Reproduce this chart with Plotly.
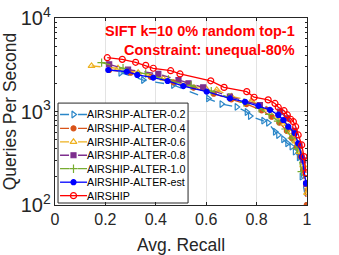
import plotly.graph_objects as go

names = ["AIRSHIP-ALTER-0.2", "AIRSHIP-ALTER-0.4", "AIRSHIP-ALTER-0.6",
         "AIRSHIP-ALTER-0.8", "AIRSHIP-ALTER-1.0", "AIRSHIP-ALTER-est", "AIRSHIP"]

r02 = [0.26, 0.35, 0.469, 0.608, 0.661, 0.721, 0.761, 0.774, 0.827, 0.846, 0.873, 0.886,
       0.906, 0.922, 0.939, 0.952, 0.968, 0.979, 1.0]
q02 = [2600, 2170, 1920, 1380, 1200, 1120, 988, 896, 798, 759, 608, 561, 505, 457, 421,
       372, 324, 201, 98]

r04 = [0.215, 0.30, 0.38, 0.47, 0.55, 0.63, 0.70, 0.76, 0.82, 0.86, 0.89, 0.92, 0.94,
       0.96, 0.975, 0.985, 0.999]
q04 = [2780, 2600, 2350, 2050, 1800, 1550, 1350, 1200, 1030, 880, 760, 620, 520, 420,
       330, 240, 100]

r06 = [0.145, 0.25, 0.33, 0.43, 0.52, 0.60, 0.642, 0.70, 0.78, 0.84, 0.88, 0.91, 0.935,
       0.955, 0.97, 0.985, 1.0]
q06 = [3070, 2900, 2600, 2250, 1950, 1750, 1700, 1450, 1300, 1050, 880, 740, 600, 480,
       370, 265, 135]

r08 = [0.215, 0.29, 0.41, 0.49, 0.53, 0.588, 0.694, 0.813, 0.893, 0.92, 0.95, 0.97,
       0.985, 0.997]
q08 = [3200, 2800, 2520, 2170, 2000, 1810, 1440, 1170, 995, 845, 620, 430, 300, 168]

r10 = [0.185, 0.27, 0.36, 0.45, 0.54, 0.62, 0.69, 0.75, 0.81, 0.85, 0.885, 0.915, 0.94,
       0.96, 0.979]
q10 = [3330, 2900, 2550, 2200, 1900, 1650, 1420, 1250, 1080, 930, 790, 650, 520, 400, 227]

rest = [0.2115, 0.2845, 0.3266, 0.39, 0.447, 0.509, 0.602, 0.694, 0.754, 0.807, 0.853,
        0.886, 0.906, 0.926, 0.952, 0.965, 0.979, 0.996]
qest = [2780, 2670, 2460, 2300, 2120, 1870, 1630, 1380, 1270, 1150, 1040, 918, 811, 688,
        585, 457, 329, 171]

rair = [0.2075, 0.267, 0.320, 0.360, 0.390, 0.459, 0.496, 0.618, 0.671, 0.761, 0.790,
        0.846, 0.873, 0.886, 0.909, 0.922, 0.935, 0.946, 0.955, 0.965, 0.979, 0.988, 0.996]
qair = [3760, 3610, 3360, 3120, 2900, 2730, 2520, 2130, 1810, 1630, 1420, 1330, 1220,
        1110, 1020, 918, 826, 778, 688, 561, 439, 329, 221]

xticks = [0, 0.2, 0.4, 0.6, 0.8, 1]
xticklabels = ["0", "0.2", "0.4", "0.6", "0.8", "1"]

styles = [
    ("#2a86c8", "dash", "triangle-right-open", 6),
    ("#D95319", "dash", "circle", 5),
    ("#EDB120", "dash", "triangle-up-open", 6),
    ("#7E2F8E", "dash", "square", 5),
    ("#77AC30", "dash", "cross-thin-open", 6),
    ("#0000FF", "solid", "circle", 5),
    ("#FF0000", "solid", "circle-open", 6),
]
data = [(r02, q02), (r04, q04), (r06, q06), (r08, q08), (r10, q10), (rest, qest), (rair, qair)]

fig = go.Figure()
for name, (x, y), (c, dash, sym, sz) in zip(names, data, styles):
    fig.add_trace(go.Scatter(
        x=x, y=y, name=name, mode="lines+markers", showlegend=False,
        line=dict(color=c, width=1.3, dash=dash),
        marker=dict(symbol=sym, size=sz, color=c, line=dict(color=c, width=1.2)),
    ))

# ---- hand-made compact legend (plot-area fractions) ----
LEG_BOX = (0.012, 0.0107, 0.528, 0.545)
LEG_Y = [0.484, 0.410, 0.338, 0.266, 0.194, 0.122, 0.050]
LEG_X0, LEG_XM, LEG_X1, LEG_TX = 0.020, 0.0734, 0.127, 0.118

bx0, by0, bx1, by1 = LEG_BOX
fig.add_trace(go.Scatter(
    x=[bx0, bx1, bx1, bx0, bx0], y=[by0, by0, by1, by1, by0], xaxis="x2", yaxis="y2",
    mode="lines", fill="toself", fillcolor="white", showlegend=False, hoverinfo="skip",
    line=dict(color="#262626", width=1)))

annotations = []
for name, ly, (c, dash, sym, sz) in zip(names, LEG_Y, styles):
    fig.add_trace(go.Scatter(
        x=[LEG_X0, LEG_X1], y=[ly, ly], xaxis="x2", yaxis="y2", mode="lines",
        showlegend=False, hoverinfo="skip",
        line=dict(color=c, width=1.3, dash=dash)))
    fig.add_trace(go.Scatter(
        x=[LEG_XM], y=[ly], xaxis="x2", yaxis="y2", mode="markers",
        showlegend=False, hoverinfo="skip",
        marker=dict(symbol=sym, size=sz, color=c, line=dict(color=c, width=1.2))))
    annotations.append(dict(xref="paper", yref="paper", x=LEG_TX, y=ly,
                            xanchor="left", yanchor="middle", showarrow=False,
                            text=name, font=dict(size=10.7, color="#000000")))

annotations.append(dict(
    xref="paper", yref="paper", x=0.962, y=0.985, xanchor="right", yanchor="top",
    align="right", showarrow=False,
    text="<b>SIFT k=10 0% random top-1<br>Constraint: unequal-80%</b>",
    font=dict(size=14.5, color="#FF0000")))

fig.update_layout(
    width=339, height=255,
    margin=dict(l=55, r=32, t=18, b=50),
    paper_bgcolor="white", plot_bgcolor="white",
    font=dict(family="Liberation Sans, Arial, sans-serif", color="#262626"),
    showlegend=False,
    xaxis=dict(range=[0, 1], tickvals=xticks, ticktext=xticklabels, automargin=False,
               showgrid=True, gridcolor="#e3e3e3", gridwidth=1,
               showline=True, linecolor="#262626", linewidth=1, mirror="ticks",
               ticks="inside", ticklen=3, tickcolor="#262626",
               tickfont=dict(size=16), zeroline=False, ticklabeloverflow="allow",
               title=dict(text="Avg. Recall", font=dict(size=17.5), standoff=16)),
    yaxis=dict(type="log", range=[2, 4], dtick=1, exponentformat="power", automargin=False,
               showgrid=True, gridcolor="#e3e3e3", gridwidth=1,
               showline=True, linecolor="#262626", linewidth=1, mirror="ticks",
               ticks="inside", ticklen=3, tickcolor="#262626",
               minor=dict(ticks="inside", ticklen=2, tickcolor="#262626", showgrid=False),
               tickfont=dict(size=16), zeroline=False, ticklabeloverflow="allow",
               title=dict(text="Queries Per Second", font=dict(size=17.5), standoff=0)),
    xaxis2=dict(overlaying="x", range=[0, 1], visible=False, fixedrange=True),
    yaxis2=dict(overlaying="y", range=[0, 1], visible=False, fixedrange=True),
    annotations=annotations,
)

fig.write_html("out.html", config={"displayModeBar": False},
               post_script="document.body.style.margin='0';")
